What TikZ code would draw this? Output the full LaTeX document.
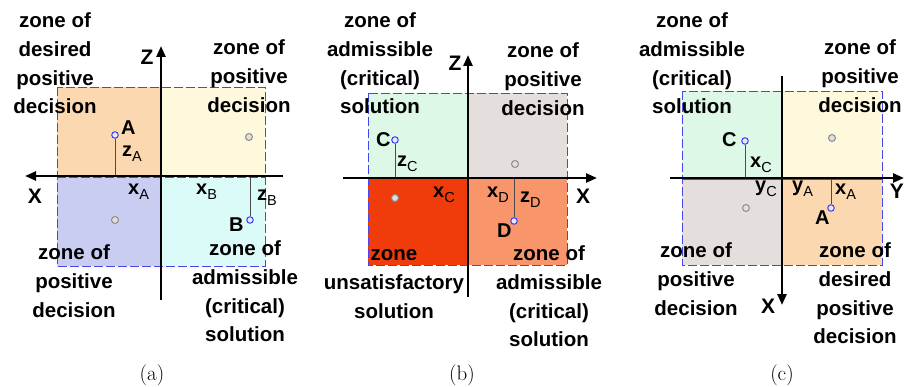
\documentclass[tikz,border=0pt]{standalone}
\usepackage{fontspec}
\newfontfamily\lab{Liberation Sans}
\usetikzlibrary{arrows.meta}
\definecolor{bordblue}{HTML}{4646F0}
\definecolor{peach}{HTML}{FBD8B0}
\definecolor{cream}{HTML}{FEF9DD}
\definecolor{lavender}{HTML}{C9CDF2}
\definecolor{aqua}{HTML}{DBFBF8}
\definecolor{mint}{HTML}{DEF8E7}
\definecolor{greyrose}{HTML}{E4DEDC}
\definecolor{redorange}{HTML}{F03C0A}
\definecolor{salmon}{HTML}{F8956A}
\definecolor{ptblue}{HTML}{3C3CF0}
\newcommand\sbs[1]{\raisebox{-4.5pt}{\fontsize{14.5}{14}\selectfont\mdseries #1}}
\tikzset{
  zonetext/.style={font=\lab\bfseries\fontsize{20.5}{28.7}\selectfont, align=center, inner sep=0pt, anchor=north},
  ptlabel/.style={font=\lab\bfseries\fontsize{20}{22}\selectfont, inner sep=0pt, anchor=base west},
  axlabel/.style={font=\lab\bfseries\fontsize{21}{24}\selectfont, inner sep=0pt},
  caption/.style={font=\fontsize{21}{24}\selectfont, inner sep=0pt},
  border/.style={draw=bordblue, line width=0.8pt, dash pattern=on 9pt off 3pt},
  axisline/.style={line width=2.4pt, -{Triangle[length=11pt,width=9pt]}},
  stem/.style={draw=black!70, line width=0.9pt},
  bluept/.style={circle, draw=ptblue, fill=white!60!ptblue!30, line width=1pt, minimum size=6.5pt, inner sep=0pt},
  greypt/.style={circle, draw=gray!90, fill=gray!25, line width=1pt, minimum size=7pt, inner sep=0pt},
}
\begin{document}
\begin{tikzpicture}[x=1pt,y=-1pt]
\useasboundingbox (0,0) rectangle (904,387);
\clip (0,0) rectangle (904,387);
% ================= panel (a) =================
\fill[peach] (57,87) rectangle (161,176);
\fill[cream] (161,87) rectangle (265,176);
\fill[lavender] (57,176) rectangle (161,266);
\fill[aqua] (161,176) rectangle (265,266);
\draw[border] (57,87) rectangle (265,266);
\draw[border] (57,177.5) -- (265,177.5);
\coordinate (aR) at (283,176);
\coordinate (aL) at (25,176);
\coordinate (aB) at (161,300);
\coordinate (aT) at (161,46);
\node[greypt] (ag1) at (249,137) {};
\node[greypt] (ag2) at (115,220) {};
\node[bluept] (pA) at (115,135) {};
\coordinate (pAx) at (115,176);
\node[bluept] (pB) at (250,220) {};
\coordinate (pBx) at (250,176);
\draw[stem] (pA) -- (pAx);
\draw[stem] (pB) -- (pBx);
\draw[axisline] (aR) -- (aL);
\draw[axisline] (aB) -- (aT);
\node[axlabel] (aX) at (35,196) {X};
\node[axlabel] (aZ) at (147,57) {Z};
\node[ptlabel] (lA) at (121,135) {A};
\node[ptlabel] (lzA) at (122,157) {z\sbs{A}};
\node[ptlabel] (lxA) at (128,195) {x\sbs{A}};
\node[ptlabel] (lxB) at (196,195) {x\sbs{B}};
\node[ptlabel] (lzB) at (257,201) {z\sbs{B}};
\node[ptlabel] (lB) at (229,232) {B};
\node[zonetext] (za1) at (55,12.7) {zone of\\desired\\positive\\decision};
\node[zonetext] (za2) at (249,39.7) {zone of\\positive\\decision};
\node[zonetext] (za3) at (74,244.7) {zone of\\positive\\decision};
\node[zonetext] (za4) at (245,240.7) {zone of\\admissible\\(critical)\\solution};
\node[caption] (capa) at (152,375) {(a)};
% ================= panel (b) =================
\fill[mint] (368,93) rectangle (468,178);
\fill[greyrose] (468,93) rectangle (567,178);
\fill[redorange] (368,178) rectangle (468,265);
\fill[salmon] (468,178) rectangle (567,265);
\draw[border] (368,93) rectangle (567,265);
\coordinate (bL) at (343,178);
\coordinate (bR) at (597,178);
\coordinate (bB) at (468,297);
\coordinate (bT) at (468,55);
\node[greypt] (bg1) at (515,164) {};
\node[greypt] (bg2) at (395,198) {};
\node[bluept] (pC) at (395,140) {};
\coordinate (pCx) at (395,178);
\node[bluept] (pD) at (514,221) {};
\coordinate (pDx) at (514,178);
\draw[stem] (pC) -- (pCx);
\draw[stem] (pD) -- (pDx);
\draw[axisline] (bL) -- (bR);
\draw[axisline] (bB) -- (bT);
\node[axlabel] (bX) at (583,196) {X};
\node[axlabel] (bZ) at (455,63) {Z};
\node[ptlabel] (lC) at (376,147) {C};
\node[ptlabel] (lzC) at (397,167) {z\sbs{C}};
\node[ptlabel] (lxC) at (433,198) {x\sbs{C}};
\node[ptlabel] (lxD) at (487,198) {x\sbs{D}};
\node[ptlabel] (lzD) at (520,203) {z\sbs{D}};
\node[ptlabel] (lD) at (497,238) {D};
\node[zonetext] (zb1) at (380,12.7) {zone of\\admissible\\(critical)\\solution};
\node[zonetext] (zb2) at (543,42.7) {zone of\\positive\\decision};
\node[zonetext] (zb3) at (394,245.7) {zone\vphantom{f}\\unsatisfactory\\solution};
\node[zonetext] (zb4) at (549,245.7) {zone of\\admissible\\(critical)\\solution};
\node[caption] (capb) at (462,375) {(b)};
% ================= panel (c) =================
\fill[mint] (682,91) rectangle (782,178);
\fill[cream] (782,91) rectangle (882,178);
\fill[greyrose] (682,178) rectangle (782,265);
\fill[peach] (782,178) rectangle (882,265);
\draw[border] (682,91) rectangle (882,265);
\draw[bordblue, line width=1pt] (682,179.5) -- (882,179.5);
\coordinate (cL) at (670,178);
\coordinate (cR) at (904,178);
\coordinate (cT) at (782,76);
\coordinate (cB) at (782,305);
\node[greypt] (cg1) at (832,138) {};
\node[greypt] (cg2) at (746,208) {};
\node[bluept] (pC2) at (745,141) {};
\coordinate (pC2x) at (745,178);
\node[bluept] (pA2) at (831,208) {};
\coordinate (pA2x) at (831,178);
\draw[stem] (pC2) -- (pC2x);
\draw[stem] (pA2) -- (pA2x);
\draw[axisline] (cL) -- (cR);
\draw[axisline] (cT) -- (cB);
\node[axlabel, anchor=base east] (cY) at (904,199) {Y};
\node[axlabel] (cX) at (768,306) {X};
\node[ptlabel] (lC2) at (722,147) {C};
\node[ptlabel] (lxC2) at (750,168) {x\sbs{C}};
\node[ptlabel] (lyC) at (755,192) {y\sbs{C}};
\node[ptlabel] (lyA) at (792,192) {y\sbs{A}};
\node[ptlabel] (lxA2) at (835,195) {x\sbs{A}};
\node[ptlabel] (lA2) at (815,225) {A};
\node[zonetext] (zc1) at (692,12.7) {zone of\\admissible\\(critical)\\solution};
\node[zonetext] (zc2) at (860,39.7) {zone of\\positive\\decision};
\node[zonetext] (zc3) at (696,242.7) {zone of\\positive\\decision};
\node[zonetext] (zc4) at (855,242.7) {zone of\\desired\\positive\\decision};
\node[caption] (capc) at (782,375) {(c)};
\end{tikzpicture}
\end{document}
